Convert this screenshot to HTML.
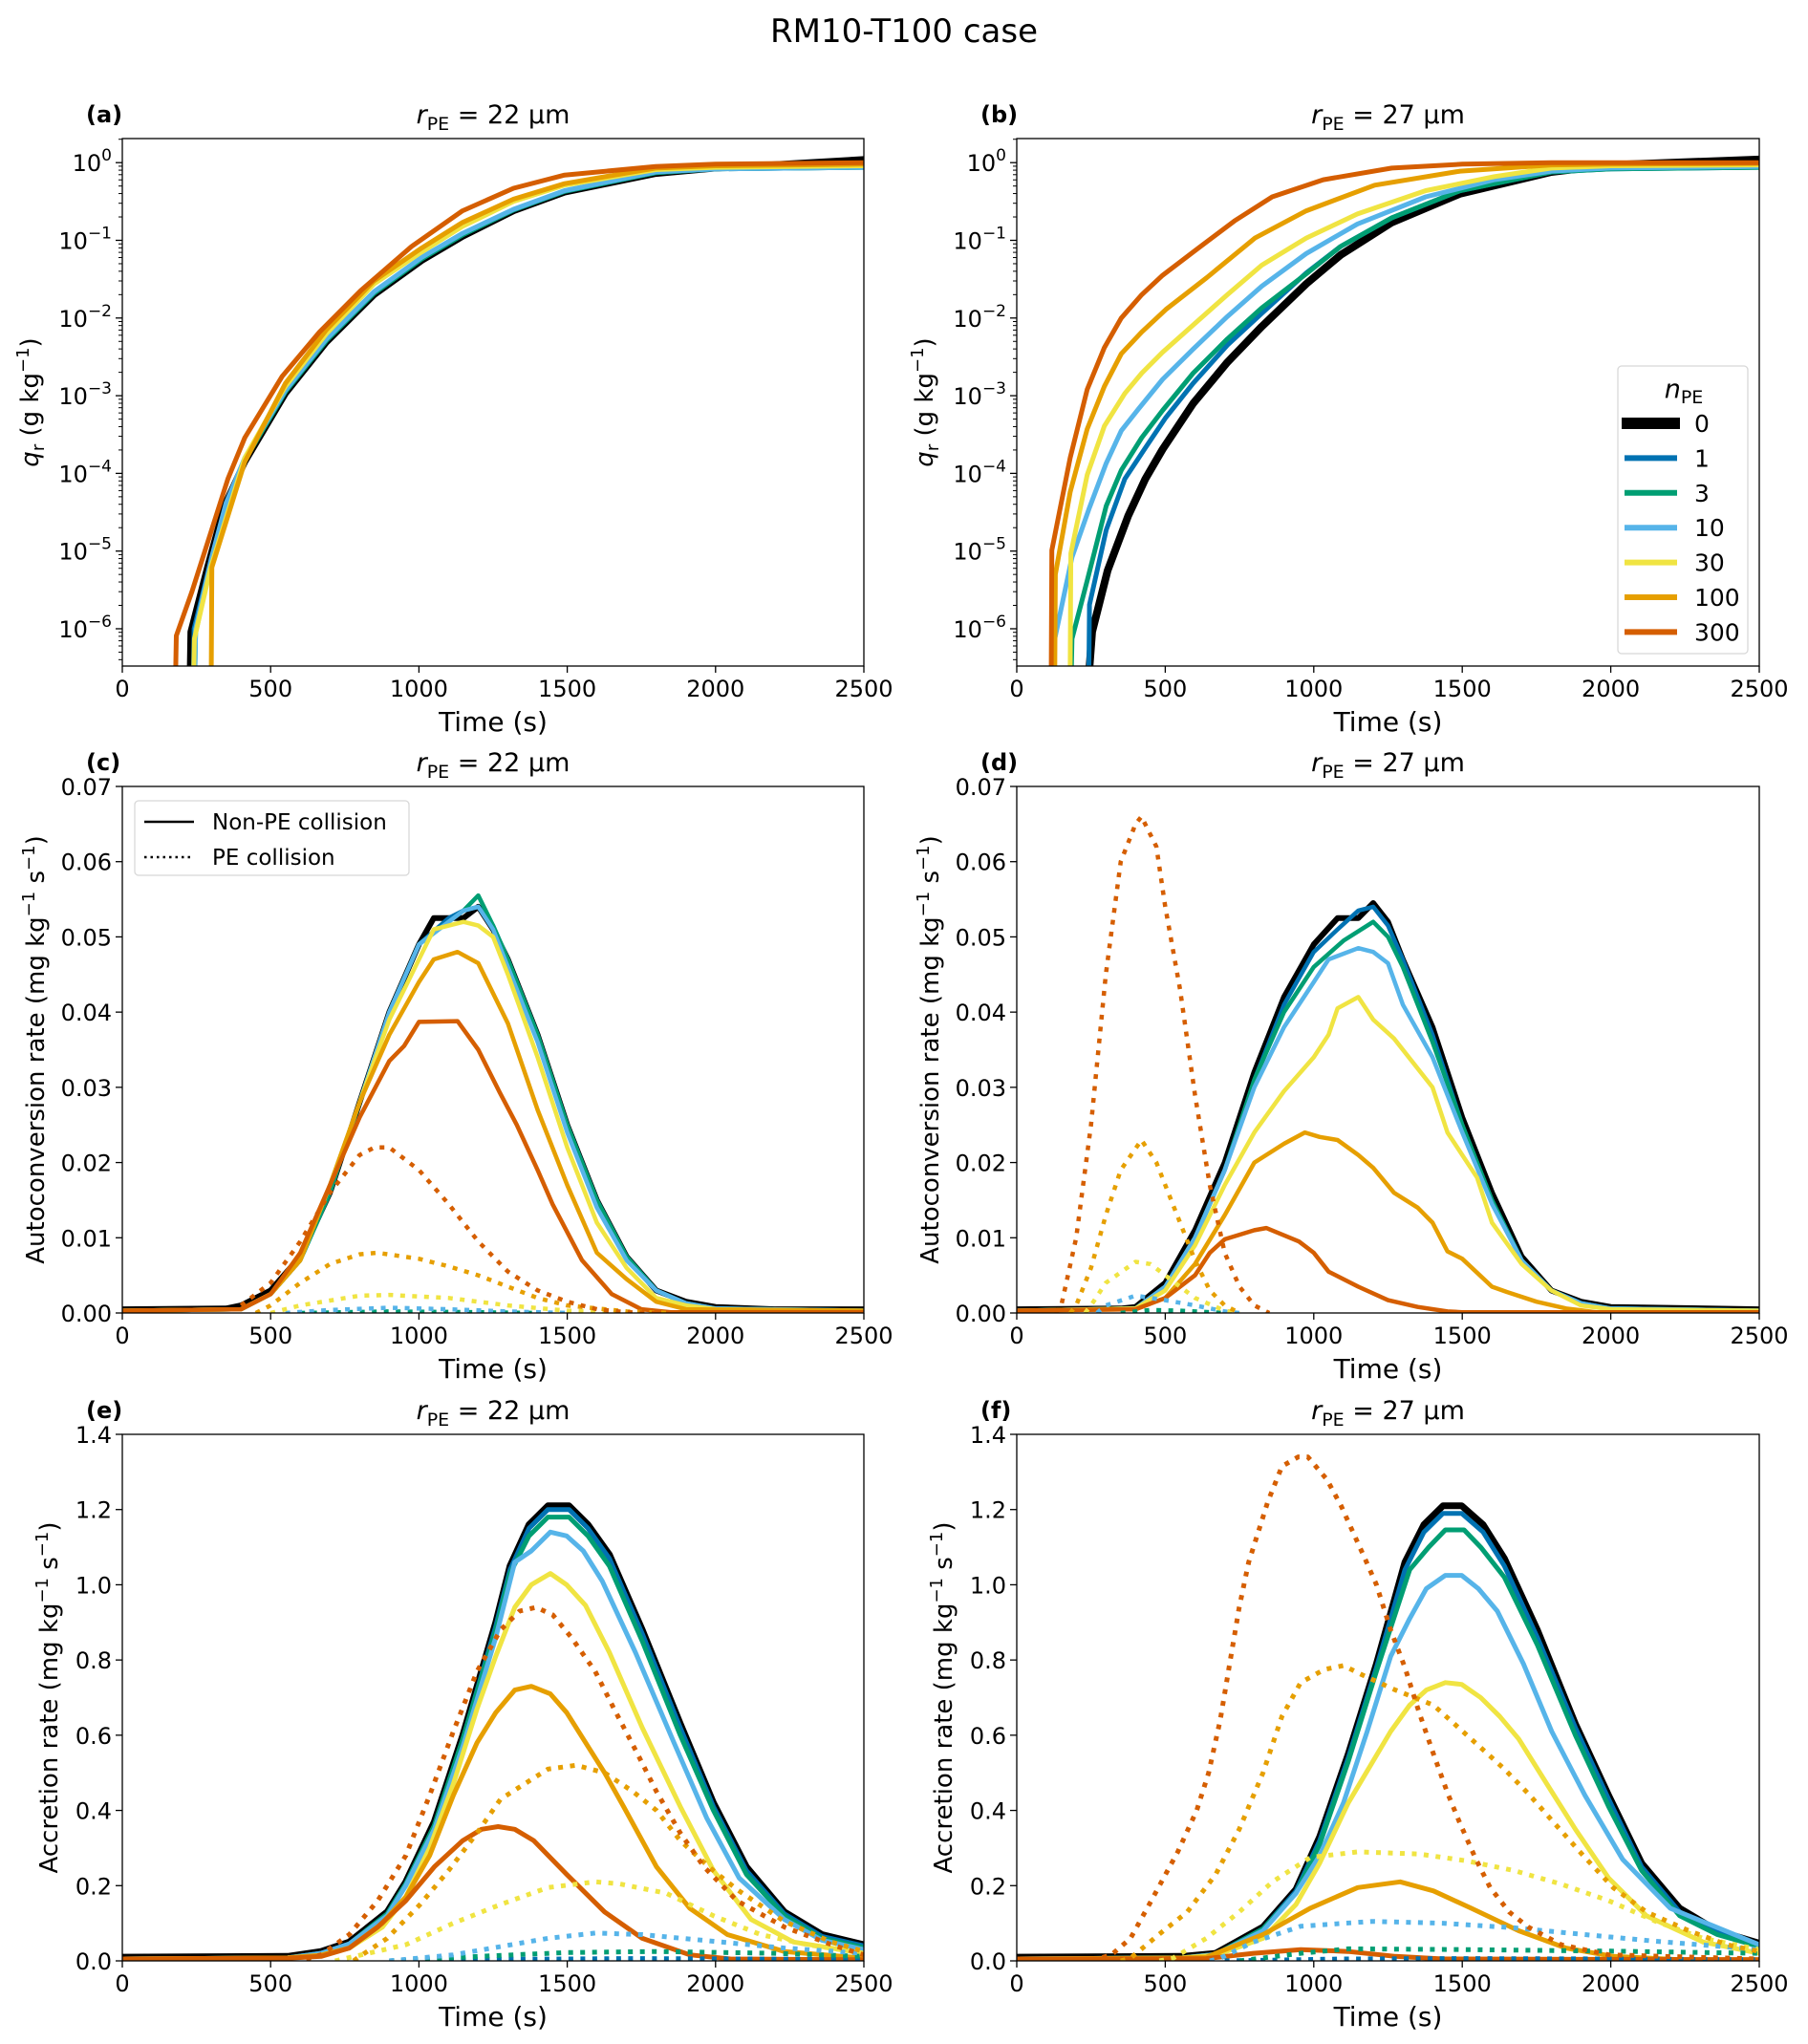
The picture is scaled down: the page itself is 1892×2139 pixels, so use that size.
<!DOCTYPE html>
<html><head><meta charset="utf-8">
<style>
html,body{margin:0;padding:0;background:#fff;}
svg{display:block;font-family:"DejaVu Sans","Liberation Sans",sans-serif;}
</style></head>
<body>
<svg id="fig" width="1892" height="2139" viewBox="0 0 1892 2139" xmlns="http://www.w3.org/2000/svg">
<text x="946" y="44" font-size="34" text-anchor="middle">RM10-T100 case</text>
</svg>
<script>
// ---------- shared ----------
const TIME_TICKS = [0, 500, 1000, 1500, 2000, 2500];
const NPE_LABELS = ["0", "1", "3", "10", "30", "100", "300"];
const COLORS = ["#000000", "#0072B2", "#009E73", "#56B4E9", "#F0E442", "#E69F00", "#D55E00"];
const LOG_TICKS = [0, -1, -2, -3, -4, -5, -6];
const AUTO_TICKS = [0, 0.01, 0.02, 0.03, 0.04, 0.05, 0.06, 0.07];
const ACC_TICKS = [0, 0.2, 0.4, 0.6, 0.8, 1.0, 1.2, 1.4];

// ---------- panel (a): log10 qr, r=22 ----------
const A0_T = [229, 231, 287, 344, 413, 550, 688, 849, 1009, 1147, 1319, 1491, 1798, 2000, 2500];
const A0_V = [-6.5, -6.04, -5.21, -4.42, -3.85, -2.97, -2.31, -1.70, -1.26, -0.95, -0.62, -0.38, -0.14, -0.07, 0.04];
const A1_T = [240, 242, 300, 350, 413, 550, 688, 849, 1009, 1147, 1319, 1491, 1798, 2000, 2500];
const A1_V = [-6.5, -6.0, -5.1, -4.4, -3.82, -2.95, -2.29, -1.68, -1.24, -0.93, -0.61, -0.37, -0.13, -0.08, -0.06];
const A3_T = [245, 247, 300, 350, 413, 550, 688, 849, 1009, 1147, 1319, 1491, 1798, 2000, 2500];
const A3_V = [-6.5, -6.05, -5.15, -4.42, -3.83, -2.95, -2.29, -1.68, -1.24, -0.93, -0.61, -0.37, -0.13, -0.08, -0.06];
const A10_T = [245, 247, 300, 350, 413, 550, 688, 849, 1009, 1147, 1319, 1491, 1798, 2000, 2500];
const A10_V = [-6.5, -6.0, -5.1, -4.38, -3.8, -2.93, -2.27, -1.66, -1.22, -0.91, -0.6, -0.36, -0.12, -0.08, -0.06];
const A30_T = [241, 243, 298, 413, 550, 688, 849, 1009, 1147, 1319, 1491, 1798, 2000, 2500];
const A30_V = [-6.5, -6.13, -5.21, -3.8, -2.88, -2.2, -1.56, -1.15, -0.82, -0.5, -0.29, -0.09, -0.06, -0.04];
const A100_T = [300, 302, 413, 550, 688, 849, 1009, 1147, 1319, 1491, 1798, 2000, 2500];
const A100_V = [-6.5, -5.21, -3.85, -2.84, -2.15, -1.52, -1.1, -0.77, -0.47, -0.27, -0.07, -0.04, -0.02];
const A300_T = [180, 182, 235, 356, 413, 539, 665, 803, 975, 1147, 1319, 1491, 1798, 2000, 2500];
const A300_V = [-6.5, -6.09, -5.52, -4.07, -3.54, -2.75, -2.18, -1.65, -1.08, -0.62, -0.33, -0.16, -0.05, -0.02, 0.0];

// ---------- panel (b): log10 qr, r=27 ----------
const B0_T = [245, 254, 306, 375, 433, 491, 594, 709, 825, 975, 1090, 1263, 1493, 1800, 2000, 2500];
const B0_V = [-6.5, -6.04, -5.25, -4.55, -4.07, -3.69, -3.10, -2.57, -2.11, -1.56, -1.19, -0.77, -0.40, -0.12, -0.03, 0.04];
const B1_T = [243, 245, 301, 364, 433, 502, 594, 709, 825, 975, 1090, 1263, 1493, 1800, 2000, 2500];
const B1_V = [-6.5, -5.69, -4.73, -4.07, -3.67, -3.28, -2.84, -2.35, -1.94, -1.42, -1.08, -0.71, -0.36, -0.12, -0.08, -0.06];
const B3_T = [184, 186, 237, 301, 352, 421, 491, 594, 709, 825, 975, 1090, 1263, 1493, 1800, 2000, 2500];
const B3_V = [-6.5, -6.13, -5.38, -4.42, -3.96, -3.54, -3.19, -2.71, -2.27, -1.87, -1.43, -1.08, -0.71, -0.36, -0.12, -0.08, -0.06];
const B10_T = [122, 128, 186, 243, 301, 352, 410, 491, 594, 709, 825, 975, 1147, 1377, 1608, 1800, 2000, 2500];
const B10_V = [-6.5, -6.13, -5.08, -4.46, -3.87, -3.45, -3.17, -2.79, -2.40, -1.98, -1.59, -1.17, -0.79, -0.44, -0.22, -0.11, -0.07, -0.05];
const B30_T = [180, 182, 237, 295, 364, 421, 491, 594, 709, 825, 975, 1147, 1377, 1608, 1800, 2000, 2500];
const B30_V = [-6.5, -5.03, -4.02, -3.39, -2.97, -2.71, -2.44, -2.09, -1.70, -1.32, -0.97, -0.66, -0.36, -0.18, -0.07, -0.04, -0.03];
const B100_T = [128, 130, 180, 237, 295, 352, 421, 502, 640, 802, 975, 1205, 1493, 1800, 2000, 2500];
const B100_V = [-6.5, -5.3, -4.24, -3.43, -2.88, -2.46, -2.18, -1.89, -1.48, -0.97, -0.62, -0.29, -0.11, -0.03, -0.02, -0.01];
const B300_T = [116, 118, 180, 237, 295, 352, 421, 491, 594, 733, 860, 1032, 1263, 1500, 1800, 2500];
const B300_V = [-6.5, -4.99, -3.8, -2.92, -2.38, -2.0, -1.70, -1.45, -1.15, -0.75, -0.44, -0.22, -0.07, -0.02, 0.0, 0.0];

// ---------- panel (c): autoconversion, r=22 ----------
const C0_T = [0, 350, 400, 500, 600, 700, 800, 900, 1000, 1050, 1100, 1150, 1200, 1250, 1300, 1400, 1500, 1600, 1700, 1800, 1900, 2000, 2200, 2500];
const C0_V = [0.0005, 0.0006, 0.001, 0.003, 0.0075, 0.016, 0.028, 0.04, 0.049, 0.0525, 0.0525, 0.0525, 0.054, 0.051, 0.047, 0.037, 0.025, 0.015, 0.0075, 0.003, 0.0015, 0.0008, 0.0005, 0.0005];
const C1_T = [0, 400, 500, 600, 700, 800, 900, 1000, 1100, 1150, 1200, 1250, 1300, 1400, 1500, 1600, 1700, 1800, 1900, 2000, 2500];
const C1_V = [0.0003, 0.0005, 0.0025, 0.007, 0.016, 0.028, 0.04, 0.049, 0.0525, 0.0535, 0.054, 0.0515, 0.047, 0.037, 0.025, 0.015, 0.0075, 0.003, 0.0013, 0.0006, 0.0003];
const C3_T = [0, 400, 500, 600, 700, 800, 900, 1000, 1100, 1150, 1200, 1250, 1300, 1400, 1500, 1600, 1700, 1800, 1900, 2000, 2500];
const C3_V = [0.0003, 0.0005, 0.0025, 0.007, 0.016, 0.028, 0.04, 0.049, 0.052, 0.0535, 0.0555, 0.0515, 0.047, 0.037, 0.025, 0.015, 0.0075, 0.003, 0.0013, 0.0006, 0.0003];
const C10_T = [0, 400, 500, 600, 700, 800, 900, 1000, 1100, 1150, 1200, 1250, 1300, 1400, 1500, 1600, 1700, 1800, 1900, 2000, 2500];
const C10_V = [0.0003, 0.0005, 0.0025, 0.007, 0.017, 0.028, 0.04, 0.049, 0.052, 0.0535, 0.054, 0.051, 0.046, 0.036, 0.024, 0.014, 0.007, 0.003, 0.0013, 0.0006, 0.0003];
const C30_T = [0, 400, 500, 600, 700, 800, 900, 1000, 1050, 1150, 1200, 1250, 1300, 1400, 1500, 1600, 1700, 1800, 1900, 2000, 2500];
const C30_V = [0.0003, 0.0005, 0.0025, 0.007, 0.017, 0.028, 0.039, 0.047, 0.051, 0.052, 0.0515, 0.050, 0.045, 0.034, 0.022, 0.012, 0.006, 0.002, 0.001, 0.0005, 0.0003];
const C100_T = [0, 400, 500, 600, 700, 800, 900, 1000, 1050, 1130, 1200, 1300, 1400, 1500, 1600, 1700, 1800, 1900, 2500];
const C100_V = [0.0003, 0.0005, 0.0025, 0.007, 0.017, 0.028, 0.037, 0.044, 0.047, 0.048, 0.0465, 0.0385, 0.027, 0.017, 0.008, 0.0045, 0.0015, 0.0005, 0.0003];
const C300_T = [0, 400, 500, 600, 700, 800, 900, 950, 1000, 1130, 1200, 1270, 1330, 1400, 1450, 1550, 1650, 1750, 1850, 2500];
const C300_V = [0.0003, 0.0005, 0.0025, 0.008, 0.017, 0.026, 0.0335, 0.0355, 0.0387, 0.0388, 0.035, 0.0295, 0.025, 0.019, 0.0145, 0.007, 0.0025, 0.0005, 0.0001, 0.0001];
const CD300_T = [400, 500, 600, 700, 800, 850, 900, 1000, 1100, 1200, 1300, 1400, 1500, 1600, 1700, 1800];
const CD300_V = [0.001, 0.004, 0.0095, 0.016, 0.021, 0.022, 0.022, 0.019, 0.0145, 0.0095, 0.0055, 0.003, 0.0015, 0.0005, 0.0001, 0];
const CD100_T = [450, 500, 600, 700, 800, 860, 1000, 1100, 1200, 1300, 1400, 1500, 1700, 1850];
const CD100_V = [0, 0.001, 0.004, 0.0065, 0.0078, 0.008, 0.0072, 0.0062, 0.005, 0.0035, 0.002, 0.001, 0.0002, 0];
const CD30_T = [500, 600, 800, 900, 1100, 1300, 1500, 1700];
const CD30_V = [0, 0.001, 0.0023, 0.0024, 0.002, 0.001, 0.0003, 0];
const CD10_T = [550, 700, 900, 1100, 1300, 1500];
const CD10_V = [0, 0.0004, 0.0007, 0.0005, 0.0002, 0];
const CD3_T = [600, 900, 1200, 1400];
const CD3_V = [0, 0.0002, 0.0001, 0];

// ---------- panel (d): autoconversion, r=27 ----------
const D0_T = [0, 350, 400, 500, 600, 700, 800, 900, 1000, 1080, 1150, 1200, 1250, 1300, 1400, 1500, 1600, 1700, 1800, 1900, 2000, 2500];
const D0_V = [0.0005, 0.0006, 0.0008, 0.004, 0.011, 0.02, 0.032, 0.042, 0.049, 0.0525, 0.0525, 0.0545, 0.052, 0.047, 0.038, 0.026, 0.016, 0.0075, 0.003, 0.0015, 0.0008, 0.0005];
const D1_T = [0, 400, 500, 600, 700, 800, 900, 1000, 1080, 1150, 1200, 1250, 1300, 1400, 1500, 1600, 1700, 1800, 1900, 2000, 2500];
const D1_V = [0.0003, 0.0006, 0.0035, 0.01, 0.019, 0.031, 0.041, 0.048, 0.051, 0.0535, 0.054, 0.0515, 0.047, 0.037, 0.025, 0.015, 0.007, 0.003, 0.0013, 0.0006, 0.0003];
const D3_T = [0, 400, 500, 600, 700, 800, 900, 1000, 1100, 1200, 1250, 1300, 1400, 1500, 1600, 1700, 1800, 1900, 2000, 2500];
const D3_V = [0.0003, 0.0006, 0.0035, 0.01, 0.019, 0.031, 0.04, 0.046, 0.0495, 0.052, 0.05, 0.046, 0.036, 0.025, 0.015, 0.007, 0.003, 0.0013, 0.0006, 0.0003];
const D10_T = [0, 400, 500, 600, 700, 800, 900, 1000, 1050, 1150, 1200, 1250, 1300, 1400, 1500, 1600, 1700, 1800, 1900, 2000, 2500];
const D10_V = [0.0003, 0.0006, 0.0035, 0.01, 0.019, 0.03, 0.038, 0.044, 0.047, 0.0485, 0.048, 0.0465, 0.041, 0.034, 0.024, 0.0145, 0.007, 0.003, 0.0013, 0.0006, 0.0003];
const D30_T = [0, 400, 500, 600, 700, 800, 900, 1000, 1050, 1080, 1150, 1200, 1270, 1400, 1450, 1550, 1600, 1700, 1800, 1900, 2000, 2500];
const D30_V = [0.0003, 0.0006, 0.003, 0.009, 0.017, 0.024, 0.0295, 0.034, 0.037, 0.0405, 0.042, 0.039, 0.0365, 0.03, 0.024, 0.018, 0.012, 0.0065, 0.003, 0.001, 0.0005, 0.0003];
const D100_T = [0, 400, 500, 600, 700, 800, 900, 970, 1020, 1080, 1150, 1200, 1270, 1350, 1400, 1450, 1500, 1600, 1650, 1750, 1850, 1950, 2500];
const D100_V = [0.0003, 0.0005, 0.002, 0.0065, 0.013, 0.02, 0.0225, 0.024, 0.0234, 0.023, 0.021, 0.0193, 0.016, 0.014, 0.012, 0.0082, 0.0072, 0.0035, 0.0028, 0.0015, 0.0006, 0.0001, 0.0001];
const D300_T = [0, 400, 500, 600, 650, 700, 800, 840, 950, 1000, 1050, 1150, 1250, 1350, 1450, 1500, 2500];
const D300_V = [0.0003, 0.0005, 0.002, 0.005, 0.008, 0.0098, 0.011, 0.0113, 0.0095, 0.008, 0.0055, 0.0035, 0.0017, 0.0008, 0.0002, 0.0001, 0.0001];
const DD300_T = [130, 150, 200, 250, 300, 350, 400, 420, 470, 500, 550, 600, 650, 700, 750, 800, 850];
const DD300_V = [0, 0.001, 0.01, 0.025, 0.045, 0.06, 0.065, 0.066, 0.062, 0.054, 0.043, 0.029, 0.017, 0.008, 0.0035, 0.001, 0];
const DD100_T = [180, 200, 250, 300, 350, 420, 470, 530, 600, 650, 700, 750];
const DD100_V = [0, 0.001, 0.006, 0.013, 0.019, 0.023, 0.02, 0.014, 0.007, 0.003, 0.001, 0];
const DD30_T = [230, 250, 300, 400, 450, 500, 550, 600, 700, 750];
const DD30_V = [0, 0.001, 0.004, 0.0068, 0.0065, 0.005, 0.0035, 0.002, 0.0003, 0];
const DD10_T = [270, 300, 400, 500, 600, 700, 750];
const DD10_V = [0, 0.001, 0.0023, 0.0017, 0.001, 0.0002, 0];
const DD3_T = [350, 450, 550, 700];
const DD3_V = [0, 0.0004, 0.0003, 0];

// ---------- panel (e): accretion, r=22 ----------
const E0_T = [0, 558, 670, 765, 893, 956, 1052, 1148, 1259, 1307, 1371, 1435, 1506, 1570, 1642, 1753, 1881, 1993, 2104, 2232, 2359, 2500];
const E0_V = [0.01, 0.012, 0.025, 0.05, 0.13, 0.21, 0.37, 0.60, 0.90, 1.05, 1.16, 1.21, 1.21, 1.16, 1.08, 0.88, 0.63, 0.42, 0.25, 0.13, 0.07, 0.043];
const E1_T = [0, 558, 670, 765, 893, 956, 1052, 1148, 1259, 1307, 1371, 1435, 1506, 1570, 1642, 1753, 1881, 1993, 2104, 2232, 2359, 2500];
const E1_V = [0.005, 0.008, 0.02, 0.045, 0.125, 0.205, 0.36, 0.59, 0.89, 1.04, 1.15, 1.2, 1.2, 1.15, 1.07, 0.87, 0.62, 0.41, 0.24, 0.125, 0.065, 0.04];
const E3_T = [0, 558, 670, 765, 893, 956, 1052, 1148, 1259, 1307, 1371, 1435, 1506, 1570, 1642, 1753, 1881, 1993, 2104, 2232, 2359, 2500];
const E3_V = [0.005, 0.008, 0.02, 0.045, 0.125, 0.205, 0.36, 0.59, 0.88, 1.03, 1.13, 1.18, 1.18, 1.13, 1.05, 0.85, 0.6, 0.4, 0.23, 0.12, 0.06, 0.035];
const E10_T = [0, 558, 670, 765, 893, 956, 1052, 1148, 1259, 1323, 1379, 1443, 1498, 1554, 1618, 1730, 1860, 1970, 2080, 2232, 2359, 2500];
const E10_V = [0.005, 0.008, 0.02, 0.045, 0.12, 0.2, 0.35, 0.57, 0.86, 1.06, 1.09, 1.14, 1.13, 1.09, 1.01, 0.82, 0.58, 0.38, 0.22, 0.11, 0.055, 0.03];
const E30_T = [0, 558, 670, 765, 877, 956, 1036, 1116, 1196, 1259, 1323, 1379, 1443, 1498, 1562, 1642, 1753, 1881, 1993, 2120, 2263, 2500];
const E30_V = [0.005, 0.008, 0.015, 0.034, 0.09, 0.17, 0.30, 0.47, 0.67, 0.81, 0.94, 1.0, 1.03, 1.0, 0.945, 0.82, 0.62, 0.41, 0.24, 0.11, 0.05, 0.02];
const E100_T = [0, 558, 670, 765, 877, 956, 1036, 1116, 1196, 1259, 1323, 1379, 1443, 1498, 1554, 1626, 1690, 1801, 1913, 2040, 2232, 2500];
const E100_V = [0.005, 0.008, 0.015, 0.034, 0.1, 0.17, 0.28, 0.44, 0.58, 0.66, 0.72, 0.73, 0.71, 0.66, 0.59, 0.50, 0.41, 0.25, 0.14, 0.07, 0.025, 0.007];
const E300_T = [0, 558, 670, 765, 861, 956, 1052, 1148, 1211, 1267, 1323, 1387, 1498, 1626, 1753, 1913, 2050, 2500];
const E300_V = [0.005, 0.007, 0.012, 0.034, 0.09, 0.16, 0.25, 0.32, 0.35, 0.357, 0.35, 0.32, 0.23, 0.13, 0.06, 0.016, 0.005, 0.003];
const ED300_T = [620, 670, 765, 861, 956, 1036, 1116, 1196, 1275, 1339, 1395, 1451, 1514, 1594, 1658, 1737, 1801, 1881, 1961, 2072, 2232, 2391, 2500];
const ED300_V = [0.005, 0.016, 0.07, 0.16, 0.28, 0.44, 0.61, 0.77, 0.88, 0.93, 0.94, 0.92, 0.86, 0.77, 0.67, 0.55, 0.45, 0.34, 0.25, 0.16, 0.09, 0.043, 0.016];
const ED100_T = [780, 797, 893, 1004, 1100, 1196, 1275, 1355, 1435, 1530, 1626, 1722, 1801, 1881, 1977, 2072, 2232, 2391, 2500];
const ED100_V = [0, 0.01, 0.06, 0.15, 0.24, 0.34, 0.43, 0.47, 0.51, 0.52, 0.50, 0.45, 0.40, 0.32, 0.25, 0.19, 0.105, 0.05, 0.025];
const ED30_T = [717, 956, 1116, 1275, 1435, 1594, 1674, 1833, 1993, 2152, 2311, 2500];
const ED30_V = [0, 0.043, 0.10, 0.15, 0.195, 0.21, 0.205, 0.18, 0.12, 0.07, 0.043, 0.02];
const ED10_T = [900, 1116, 1435, 1594, 1753, 1993, 2232, 2500];
const ED10_V = [0, 0.016, 0.06, 0.074, 0.07, 0.052, 0.034, 0.02];
const ED3_T = [900, 1200, 1500, 1800, 2200, 2500];
const ED3_V = [0, 0.012, 0.022, 0.025, 0.02, 0.012];
const ED1_T = [900, 1300, 1700, 2100, 2500];
const ED1_V = [0, 0.004, 0.006, 0.005, 0.003];

// ---------- panel (f): accretion, r=27 ----------
const F0_T = [0, 558, 670, 829, 940, 1020, 1116, 1211, 1307, 1371, 1435, 1498, 1570, 1642, 1753, 1881, 1993, 2104, 2232, 2359, 2500];
const F0_V = [0.01, 0.012, 0.02, 0.09, 0.19, 0.33, 0.55, 0.79, 1.06, 1.16, 1.21, 1.21, 1.16, 1.07, 0.88, 0.63, 0.44, 0.26, 0.14, 0.08, 0.047];
const F1_T = [0, 558, 670, 829, 940, 1020, 1116, 1211, 1307, 1371, 1435, 1498, 1570, 1642, 1753, 1881, 1993, 2104, 2232, 2359, 2500];
const F1_V = [0.005, 0.008, 0.017, 0.085, 0.185, 0.32, 0.54, 0.78, 1.04, 1.14, 1.19, 1.19, 1.14, 1.05, 0.86, 0.62, 0.43, 0.25, 0.13, 0.075, 0.042];
const F3_T = [0, 558, 670, 829, 940, 1020, 1116, 1211, 1323, 1387, 1443, 1506, 1562, 1642, 1753, 1881, 1993, 2104, 2232, 2359, 2500];
const F3_V = [0.005, 0.008, 0.017, 0.085, 0.18, 0.31, 0.53, 0.77, 1.04, 1.10, 1.146, 1.146, 1.10, 1.02, 0.84, 0.6, 0.41, 0.24, 0.12, 0.07, 0.038];
const F10_T = [0, 558, 670, 829, 940, 1020, 1100, 1180, 1259, 1323, 1379, 1443, 1498, 1554, 1618, 1706, 1801, 1913, 2040, 2200, 2500];
const F10_V = [0.005, 0.008, 0.017, 0.08, 0.18, 0.28, 0.42, 0.61, 0.81, 0.91, 0.99, 1.025, 1.025, 0.99, 0.93, 0.79, 0.61, 0.44, 0.27, 0.14, 0.043];
const F30_T = [0, 558, 670, 829, 940, 1020, 1116, 1259, 1323, 1379, 1443, 1498, 1562, 1626, 1690, 1785, 1881, 1993, 2120, 2311, 2500];
const F30_V = [0.005, 0.008, 0.015, 0.06, 0.15, 0.26, 0.42, 0.61, 0.68, 0.72, 0.74, 0.735, 0.70, 0.65, 0.59, 0.47, 0.35, 0.22, 0.12, 0.05, 0.02];
const F100_T = [0, 500, 638, 829, 988, 1148, 1291, 1403, 1530, 1690, 1849, 2008, 2230, 2500];
const F100_V = [0.005, 0.006, 0.01, 0.07, 0.14, 0.195, 0.21, 0.186, 0.14, 0.08, 0.034, 0.012, 0.003, 0.003];
const F300_T = [0, 638, 797, 956, 1116, 1275, 1435, 2500];
const F300_V = [0.005, 0.006, 0.02, 0.03, 0.025, 0.012, 0.005, 0.003];
const FD300_T = [250, 319, 383, 446, 542, 606, 646, 685, 717, 749, 781, 813, 845, 893, 948, 980, 1044, 1092, 1132, 1172, 1211, 1259, 1307, 1355, 1403, 1451, 1490, 1546, 1594, 1658, 1722, 1833, 1993, 2500];
const FD300_V = [0, 0.016, 0.06, 0.15, 0.29, 0.40, 0.50, 0.64, 0.79, 0.94, 1.06, 1.14, 1.22, 1.315, 1.34, 1.34, 1.28, 1.21, 1.14, 1.07, 1.0, 0.88, 0.78, 0.66, 0.55, 0.445, 0.37, 0.27, 0.195, 0.13, 0.09, 0.043, 0.016, 0.005];
const FD100_T = [350, 383, 478, 574, 670, 749, 829, 893, 956, 1036, 1100, 1164, 1275, 1403, 1530, 1642, 1722, 1817, 1913, 2008, 2120, 2263, 2391, 2500];
const FD100_V = [0, 0.007, 0.07, 0.13, 0.23, 0.35, 0.50, 0.65, 0.74, 0.775, 0.785, 0.76, 0.72, 0.68, 0.59, 0.51, 0.445, 0.36, 0.275, 0.195, 0.13, 0.08, 0.043, 0.025];
const FD30_T = [480, 526, 638, 749, 861, 988, 1148, 1355, 1514, 1674, 1833, 1993, 2152, 2311, 2500];
const FD30_V = [0, 0.007, 0.06, 0.13, 0.21, 0.275, 0.29, 0.284, 0.266, 0.24, 0.204, 0.16, 0.105, 0.06, 0.03];
const FD10_T = [650, 685, 797, 956, 1196, 1435, 1674, 1913, 2152, 2500];
const FD10_V = [0, 0.007, 0.05, 0.092, 0.105, 0.10, 0.088, 0.07, 0.052, 0.03];
const FD3_T = [750, 956, 1116, 1500, 2000, 2500];
const FD3_V = [0, 0.02, 0.032, 0.03, 0.026, 0.02];
const FD1_T = [700, 1100, 1500, 2000, 2500];
const FD1_V = [0, 0.005, 0.006, 0.005, 0.003];

// ---------- drawing ----------
const NS = "http://www.w3.org/2000/svg";
const svg = document.getElementById("fig");
function mk(tag, attrs, parent) {
  const e = document.createElementNS(NS, tag);
  for (const k in attrs) e.setAttribute(k, attrs[k]);
  (parent || svg).appendChild(e);
  return e;
}
const COLS = [[128, 904], [1064, 1841]];
const ROWS = [[145, 697], [823, 1374], [1501, 2052]];

function makePanel(col, row, ymin, ymax, letter, rlabel, pname) {
  const [x0, x1] = COLS[col], [y0, y1] = ROWS[row];
  const g = mk("g", {});
  
  
  const sx = t => x0 + (t / 2500) * (x1 - x0);
  const sy = v => y1 - (v - ymin) / (ymax - ymin) * (y1 - y0);
  const clipId = "clip-" + pname;
  const cp = mk("clipPath", { id: clipId }, g);
  mk("rect", { x: x0, y: y0, width: x1 - x0, height: y1 - y0 }, cp);
  const plot = mk("g", { "clip-path": "url(#" + clipId + ")" }, g);
  TIME_TICKS.forEach(t => {
    const tk = mk("line", { x1: sx(t), x2: sx(t), y1: y1, y2: y1 + 7, stroke: "#000", "stroke-width": 1.3 }, g);
    
    
    const tl = mk("text", { x: sx(t), y: y1 + 32, "font-size": 24, "text-anchor": "middle" }, g);
    tl.textContent = String(t);
    
    
  });
  const xl = mk("text", { x: (x0 + x1) / 2, y: y1 + 68, "font-size": 28, "text-anchor": "middle" }, g);
  xl.textContent = "Time (s)";
  
  
  const pl = mk("text", { x: x0 - 38, y: y0 - 17, "font-size": 24, "font-weight": "bold" }, g);
  pl.textContent = "(" + letter + ")";
  
  
  const ti = mk("text", { x: (x0 + x1) / 2, y: y0 - 16, "font-size": 27, "text-anchor": "middle" }, g);
  ti.innerHTML = '<tspan font-style="italic">r</tspan><tspan font-size="19" dy="7">PE</tspan><tspan dy="-7"> = ' + rlabel + ' μm</tspan>';
  
  
  return { g, plot, sx, sy, x0, x1, y0, y1 };
}
function frame(p) {
  const r = mk("rect", { x: p.x0, y: p.y0, width: p.x1 - p.x0, height: p.y1 - p.y0, fill: "none", stroke: "#000", "stroke-width": 1.3 }, p.g);
  
  
}
function linTicks(p, ticks, fmt) {
  ticks.forEach(v => {
    mk("line", { x1: p.x0 - 7, x2: p.x0, y1: p.sy(v), y2: p.sy(v), stroke: "#000", "stroke-width": 1.3 }, p.g);
    const tl = mk("text", { x: p.x0 - 11, y: p.sy(v) + 9, "font-size": 24, "text-anchor": "end" }, p.g);
    tl.textContent = v.toFixed(fmt);
    
    
  });
}
function logTicks(p) {
  LOG_TICKS.forEach(d => {
    mk("line", { x1: p.x0 - 7, x2: p.x0, y1: p.sy(d), y2: p.sy(d), stroke: "#000", "stroke-width": 1.3 }, p.g);
    const tl = mk("text", { x: p.x0 - 11, y: p.sy(d) + 9, "font-size": 24, "text-anchor": "end" }, p.g);
    tl.innerHTML = '10<tspan font-size="17" dy="-11">' + (d === 0 ? "0" : "−" + (-d)) + '</tspan>';
    
    
    for (let k = 2; k <= 9; k++) {
      const v = d - 1 + Math.log10(k);
      if (p.sy(v) <= p.y1 && p.sy(v) >= p.y0)
        mk("line", { x1: p.x0 - 4, x2: p.x0, y1: p.sy(v), y2: p.sy(v), stroke: "#000", "stroke-width": 1 }, p.g);
    }
    const v2 = d + Math.log10(2);
    if (d === 0 && p.sy(v2) >= p.y0) mk("line", { x1: p.x0 - 4, x2: p.x0, y1: p.sy(v2), y2: p.sy(v2), stroke: "#000", "stroke-width": 1 }, p.g);
  });
}
function ylabel(p, html, x, name) {
  const cy = (p.y0 + p.y1) / 2;
  const t = mk("text", { x: x, y: cy, "font-size": 26, "text-anchor": "middle", transform: "rotate(-90 " + x + " " + cy + ")" }, p.g);
  t.innerHTML = html;
  
  
}
function series(p, T, V, ci, width, dotted, name) {
  const pts = T.map((t, i) => p.sx(t).toFixed(1) + "," + p.sy(V[i]).toFixed(1)).join(" ");
  const a = { points: pts, fill: "none", stroke: COLORS[ci], "stroke-width": width, "stroke-linejoin": "round" };
  if (dotted) { a["stroke-dasharray"] = "5 7.5"; a["stroke-linecap"] = "butt"; }
  const pl = mk("polyline", a, p.plot);
  
  
}

// Panels a, b
const LOGMIN = -6.48, LOGMAX = 0.31;
const pa = makePanel(0, 0, LOGMIN, LOGMAX, "a", "22", "panel-a");
const pb = makePanel(1, 0, LOGMIN, LOGMAX, "b", "27", "panel-b");
const aSets = [[A0_T, A0_V], [A1_T, A1_V], [A3_T, A3_V], [A10_T, A10_V], [A30_T, A30_V], [A100_T, A100_V], [A300_T, A300_V]];
const bSets = [[B0_T, B0_V], [B1_T, B1_V], [B3_T, B3_V], [B10_T, B10_V], [B30_T, B30_V], [B100_T, B100_V], [B300_T, B300_V]];
aSets.forEach((s, i) => series(pa, s[0], s[1], i, i === 0 ? 7 : 5, false, "qr-line-npe-" + NPE_LABELS[i]));
bSets.forEach((s, i) => series(pb, s[0], s[1], i, i === 0 ? 8 : 5, false, "qr-line-npe-" + NPE_LABELS[i]));
[pa, pb].forEach(p => { logTicks(p); frame(p); });
const qrLab = '<tspan font-style="italic">q</tspan><tspan font-size="18" dy="6">r</tspan><tspan dy="-6"> (g kg</tspan><tspan font-size="18" dy="-10">−1</tspan><tspan dy="10">)</tspan>';
ylabel(pa, qrLab, 40, "y-axis-title");
ylabel(pb, qrLab, 976, "y-axis-title");

// Panels c, d
const pc = makePanel(0, 1, 0, 0.07, "c", "22", "panel-c");
const pd = makePanel(1, 1, 0, 0.07, "d", "27", "panel-d");
const cSets = [[C0_T, C0_V], [C1_T, C1_V], [C3_T, C3_V], [C10_T, C10_V], [C30_T, C30_V], [C100_T, C100_V], [C300_T, C300_V]];
const dSets = [[D0_T, D0_V], [D1_T, D1_V], [D3_T, D3_V], [D10_T, D10_V], [D30_T, D30_V], [D100_T, D100_V], [D300_T, D300_V]];
const cDot = [[CD3_T, CD3_V, 2], [CD10_T, CD10_V, 3], [CD30_T, CD30_V, 4], [CD100_T, CD100_V, 5], [CD300_T, CD300_V, 6]];
const dDot = [[DD3_T, DD3_V, 2], [DD10_T, DD10_V, 3], [DD30_T, DD30_V, 4], [DD100_T, DD100_V, 5], [DD300_T, DD300_V, 6]];
cSets.forEach((s, i) => series(pc, s[0], s[1], i, i === 0 ? 6 : 4.5, false, "autoconv-nonpe-npe-" + NPE_LABELS[i]));
dSets.forEach((s, i) => series(pd, s[0], s[1], i, i === 0 ? 6 : 4.5, false, "autoconv-nonpe-npe-" + NPE_LABELS[i]));
cDot.forEach(s => series(pc, s[0], s[1], s[2], 4.5, true, "autoconv-pe-npe-" + NPE_LABELS[s[2]]));
dDot.forEach(s => series(pd, s[0], s[1], s[2], 4.5, true, "autoconv-pe-npe-" + NPE_LABELS[s[2]]));
[pc, pd].forEach(p => { linTicks(p, AUTO_TICKS, 2); frame(p); });
const acLab = 'Autoconversion rate (mg kg<tspan font-size="18" dy="-10">−1</tspan><tspan dy="10"> s</tspan><tspan font-size="18" dy="-10">−1</tspan><tspan dy="10">)</tspan>';
ylabel(pc, acLab, 46, "y-axis-title");
ylabel(pd, acLab, 982, "y-axis-title");

// Panels e, f
const pe = makePanel(0, 2, 0, 1.4, "e", "22", "panel-e");
const pf = makePanel(1, 2, 0, 1.4, "f", "27", "panel-f");
const eSets = [[E0_T, E0_V], [E1_T, E1_V], [E3_T, E3_V], [E10_T, E10_V], [E30_T, E30_V], [E100_T, E100_V], [E300_T, E300_V]];
const fSets = [[F0_T, F0_V], [F1_T, F1_V], [F3_T, F3_V], [F10_T, F10_V], [F30_T, F30_V], [F100_T, F100_V], [F300_T, F300_V]];
const eDot = [[ED1_T, ED1_V, 1], [ED3_T, ED3_V, 2], [ED10_T, ED10_V, 3], [ED30_T, ED30_V, 4], [ED100_T, ED100_V, 5], [ED300_T, ED300_V, 6]];
const fDot = [[FD1_T, FD1_V, 1], [FD3_T, FD3_V, 2], [FD10_T, FD10_V, 3], [FD30_T, FD30_V, 4], [FD100_T, FD100_V, 5], [FD300_T, FD300_V, 6]];
eSets.forEach((s, i) => series(pe, s[0], s[1], i, i === 0 ? 7 : 5, false, "accretion-nonpe-npe-" + NPE_LABELS[i]));
fSets.forEach((s, i) => series(pf, s[0], s[1], i, i === 0 ? 7 : 5, false, "accretion-nonpe-npe-" + NPE_LABELS[i]));
eDot.forEach(s => series(pe, s[0], s[1], s[2], 5, true, "accretion-pe-npe-" + NPE_LABELS[s[2]]));
fDot.forEach(s => series(pf, s[0], s[1], s[2], 5, true, "accretion-pe-npe-" + NPE_LABELS[s[2]]));
[pe, pf].forEach(p => { linTicks(p, ACC_TICKS, 1); frame(p); });
const arLab = 'Accretion rate (mg kg<tspan font-size="18" dy="-10">−1</tspan><tspan dy="10"> s</tspan><tspan font-size="18" dy="-10">−1</tspan><tspan dy="10">)</tspan>';
ylabel(pe, arLab, 60, "y-axis-title");
ylabel(pf, arLab, 996, "y-axis-title");

// Legend (b)
const lg = mk("g", {});


mk("rect", { x: 1693, y: 383, width: 136, height: 301, rx: 4, fill: "#fff", "fill-opacity": 0.85, stroke: "#d8d8d8", "stroke-width": 1.3 }, lg);
const lt = mk("text", { x: 1762, y: 416, "font-size": 27, "text-anchor": "middle" }, lg);
lt.innerHTML = '<tspan font-style="italic">n</tspan><tspan font-size="19" dy="6">PE</tspan>';


NPE_LABELS.forEach((lab, i) => {
  const y = 443 + i * 36.4;
  const h = mk("line", { x1: i === 0 ? 1697 : 1700, x2: i === 0 ? 1758 : 1755, y1: y, y2: y, stroke: COLORS[i], "stroke-width": i === 0 ? 12 : 6 }, lg);
  
  
  const t = mk("text", { x: 1773, y: y + 9, "font-size": 25 }, lg);
  t.textContent = lab;
  
  
});

// Legend (c)
const lc = mk("g", {});


mk("rect", { x: 141, y: 838, width: 287, height: 78, rx: 4, fill: "#fff", "fill-opacity": 0.85, stroke: "#d8d8d8", "stroke-width": 1.3 }, lc);
mk("line", { x1: 151, x2: 203, y1: 860, y2: 860, stroke: "#000", "stroke-width": 2.5 }, lc);
mk("line", { x1: 151, x2: 203, y1: 897, y2: 897, stroke: "#000", "stroke-width": 2.5, "stroke-dasharray": "2.5 4" }, lc);
const l1 = mk("text", { x: 222, y: 868, "font-size": 23 }, lc);
l1.textContent = "Non-PE collision";


const l2 = mk("text", { x: 222, y: 905, "font-size": 23 }, lc);
l2.textContent = "PE collision";


</script>
</body></html>
